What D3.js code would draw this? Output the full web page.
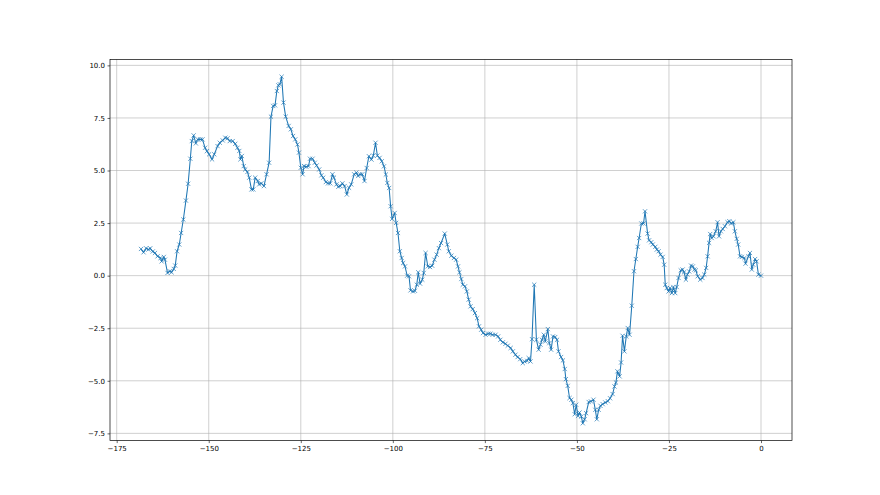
<!DOCTYPE html>
<html>
<head>
<meta charset="utf-8">
<script src="https://cdn.jsdelivr.net/npm/d3@7"></script>
<style>
  body { margin: 0; background: #fff; }
  svg { display: block; }
  .tick text { font-family: "DejaVu Sans", sans-serif; font-size: 7px; fill: #000; }
  .domain { display: none; }
</style>
</head>
<body>
<svg width="880" height="495"></svg>
<script>
// x positions
var xs = [
  -168.4, -167.7, -167.0, -166.4, -165.9, -165.2, -164.6, -163.9, -163.1, -162.8,
  -162.2, -161.9, -161.2, -160.6, -160.1, -159.5, -159.1, -158.6, -158.0, -157.5,
  -156.9, -156.2, -155.6, -155.0, -154.6, -154.1, -153.5, -153.0, -152.3, -151.7,
  -151.0, -150.5, -149.9, -149.1, -148.5, -147.6, -147.0, -146.2, -145.5, -144.9,
  -144.3, -143.5, -142.8, -142.2, -141.7, -141.4, -141.0, -140.5, -140.1, -139.5,
  -139.0, -138.4, -137.9, -137.4, -136.7, -136.3, -135.7, -135.0, -134.3, -133.6,
  -133.1, -132.5, -132.0, -131.5, -131.1, -130.7, -130.2, -129.7, -129.1, -128.3,
  -127.7, -127.1, -126.5, -125.9, -125.5, -125.0, -124.5, -124.1, -123.5, -122.9,
  -122.5, -121.8, -121.2, -120.7, -120.0, -119.4, -118.9, -118.2, -117.6, -117.0,
  -116.4, -116.0, -115.3, -114.8, -114.3, -113.7, -113.1, -112.5, -111.9, -111.3,
  -110.5, -109.9, -109.4, -108.9, -108.3, -107.7, -107.1, -106.5, -105.8, -105.3,
  -104.7, -104.2, -103.6, -103.0, -102.4, -101.9, -101.5, -101.0, -100.6, -100.2,
  -99.5, -99.1, -98.6, -98.1, -97.6, -97.2, -96.7, -96.1, -95.6, -95.2,
  -94.5, -94.0, -93.5, -93.1, -92.6, -92.0, -91.6, -91.1, -90.5, -89.9,
  -89.3, -88.7, -88.1, -87.5, -86.9, -85.9, -85.2, -84.8, -84.1, -83.4,
  -82.8, -82.3, -81.9, -81.4, -81.0, -80.4, -79.9, -79.4, -78.9, -78.3,
  -77.7, -77.1, -76.6, -76.0, -75.5, -74.8, -74.1, -73.5, -72.9, -72.1,
  -71.4, -70.8, -70.1, -69.4, -68.8, -68.0, -67.4, -66.7, -66.1, -65.4,
  -64.7, -64.2, -63.5, -63.1, -62.6, -62.2, -61.6, -61.0, -60.4, -59.9,
  -59.5, -59.0, -58.6, -57.9, -57.5, -57.0, -56.5, -55.9, -55.4, -55.0,
  -54.3, -53.8, -53.3, -53.0, -52.5, -52.0, -51.5, -51.1, -50.6, -50.2,
  -49.7, -49.3, -48.8, -48.4, -47.9, -47.5, -46.8, -46.2, -45.5, -45.0,
  -44.6, -44.1, -43.6, -43.0, -42.3, -41.6, -41.0, -40.3, -39.8, -39.4,
  -39.0, -38.4, -38.0, -37.6, -37.1, -36.6, -36.2, -35.7, -35.1, -34.5,
  -34.0, -33.5, -33.1, -32.5, -31.9, -31.5, -30.8, -30.4, -29.8, -29.4,
  -28.7, -28.3, -27.8, -27.3, -26.7, -26.3, -26.0, -25.6, -25.1, -24.7,
  -24.2, -23.8, -23.3, -22.9, -22.4, -21.8, -21.3, -20.9, -20.4, -20.0,
  -19.5, -19.0, -18.5, -18.1, -17.7, -17.2, -16.5, -15.9, -15.4, -14.9,
  -14.5, -14.1, -13.8, -13.4, -12.9, -12.3, -11.8, -11.4, -10.9, -10.4,
  -9.8, -9.1, -8.6, -8.1, -7.5, -7.1, -6.6, -6.2, -5.7, -5.2,
  -4.5, -4.2, -3.4, -3.0, -2.5, -2.1, -1.6, -1.2, -0.7, 0.0
];

// series values
var ys = [
  1.27, 1.11, 1.30, 1.24, 1.30, 1.15, 1.08, 0.92, 0.84, 0.68,
  0.89, 0.76, 0.13, 0.21, 0.16, 0.32, 0.48, 1.16, 1.48, 2.03,
  2.67, 3.57, 4.37, 5.56, 6.40, 6.67, 6.29, 6.48, 6.48, 6.48,
  6.08, 5.92, 5.77, 5.53, 5.77, 6.16, 6.32, 6.43, 6.56, 6.53,
  6.40, 6.40, 6.27, 6.08, 5.93, 5.53, 5.69, 5.21, 5.05, 4.93,
  4.66, 4.10, 4.10, 4.66, 4.50, 4.34, 4.39, 4.26, 4.82, 5.37,
  7.56, 8.07, 8.10, 8.78, 9.05, 9.10, 9.46, 8.23, 7.56, 7.12,
  6.96, 6.64, 6.48, 6.24, 5.85, 5.13, 4.82, 5.21, 5.18, 5.21,
  5.56, 5.56, 5.37, 5.24, 5.05, 4.77, 4.66, 4.45, 4.39, 4.39,
  4.82, 4.66, 4.34, 4.23, 4.26, 4.39, 4.26, 3.86, 4.18, 4.34,
  4.82, 4.90, 4.74, 4.82, 4.82, 4.50, 5.12, 5.68, 5.52, 5.71,
  6.32, 5.71, 5.60, 5.44, 5.20, 4.81, 4.41, 4.17, 3.30, 2.70,
  2.98, 2.51, 2.03, 1.16, 0.84, 0.60, 0.44, 0.00, -0.03, -0.70,
  -0.75, -0.72, -0.43, 0.16, -0.38, -0.19, 0.13, 1.08, 0.44, 0.41,
  0.47, 0.76, 1.00, 1.31, 1.55, 2.00, 1.48, 1.16, 0.95, 0.84,
  0.76, 0.44, 0.16, -0.16, -0.43, -0.51, -0.75, -1.14, -1.46, -1.59,
  -1.78, -2.02, -2.41, -2.57, -2.73, -2.81, -2.76, -2.76, -2.81, -2.81,
  -2.89, -3.05, -3.17, -3.24, -3.33, -3.44, -3.60, -3.76, -3.87, -3.97,
  -4.16, -4.08, -4.05, -3.92, -4.08, -3.02, -0.43, -3.05, -3.52, -3.28,
  -3.05, -2.81, -3.13, -2.54, -3.21, -3.52, -2.89, -2.92, -3.05, -3.60,
  -3.87, -4.03, -4.44, -4.92, -5.24, -5.82, -5.90, -6.06, -6.59, -6.14,
  -6.67, -6.51, -6.70, -7.02, -6.83, -6.54, -6.01, -5.98, -5.90, -6.38,
  -6.83, -6.38, -6.19, -6.11, -6.03, -5.97, -5.83, -5.63, -5.27, -5.08,
  -4.55, -4.79, -4.13, -2.86, -3.60, -2.89, -2.49, -2.81, -1.43, 0.21,
  0.79, 1.37, 1.79, 2.48, 2.48, 3.06, 2.00, 1.68, 1.59, 1.48,
  1.37, 1.24, 1.16, 1.00, 0.89, 0.52, -0.43, -0.59, -0.75, -0.59,
  -0.83, -0.54, -0.83, -0.54, -0.11, 0.25, 0.29, 0.16, -0.19, 0.05,
  0.20, 0.48, 0.44, 0.29, 0.25, -0.03, -0.19, -0.11, 0.05, 0.37,
  0.92, 1.56, 1.98, 1.79, 1.87, 2.11, 2.54, 1.87, 2.11, 2.22,
  2.35, 2.54, 2.59, 2.48, 2.54, 2.11, 1.75, 1.48, 0.92, 0.89,
  0.84, 0.57, 0.92, 1.08, 0.29, 0.52, 0.79, 0.68, 0.05, 0.00
];

var xTicks = [-175, -150, -125, -100, -75, -50, -25, 0];
var yTicks = [-7.5, -5.0, -2.5, 0.0, 2.5, 5.0, 7.5, 10.0];

var data = xs.map(function(x, i) { return { x: x, y: ys[i] }; });

var svg = d3.select("svg");
var plotLeft = 110, plotRight = 792, plotTop = 59.4, plotBottom = 440.6;

// matplotlib style 5% margins
var xExt = d3.extent(xs), yExt = d3.extent(ys);
var xPad = (xExt[1] - xExt[0]) * 0.05, yPad = (yExt[1] - yExt[0]) * 0.05;

var x = d3.scaleLinear()
    .domain([xExt[0] - xPad, xExt[1] + xPad])
    .range([plotLeft, plotRight]);

var y = d3.scaleLinear()
    .domain([yExt[0] - yPad, yExt[1] + yPad])
    .range([plotBottom, plotTop]);

// grid
svg.append("g")
    .selectAll("line")
    .data(xTicks)
    .enter().append("line")
      .attr("x1", function(d) { return x(d); })
      .attr("x2", function(d) { return x(d); })
      .attr("y1", plotTop)
      .attr("y2", plotBottom)
      .attr("stroke", "#b0b0b0")
      .attr("stroke-width", 0.6);

svg.append("g")
    .selectAll("line")
    .data(yTicks)
    .enter().append("line")
      .attr("x1", plotLeft)
      .attr("x2", plotRight)
      .attr("y1", function(d) { return y(d); })
      .attr("y2", function(d) { return y(d); })
      .attr("stroke", "#b0b0b0")
      .attr("stroke-width", 0.6);

// the line
var line = d3.line()
    .x(function(d) { return x(d.x); })
    .y(function(d) { return y(d.y); });

svg.append("path")
    .datum(data)
    .attr("d", line)
    .attr("fill", "none")
    .attr("stroke", "#1f77b4")
    .attr("stroke-width", 1.05)
    .attr("stroke-linejoin", "round");

// x markers
var m = 2.1;
svg.append("g")
    .selectAll("path")
    .data(data)
    .enter().append("path")
      .attr("d", function(d) {
        var cx = x(d.x), cy = y(d.y);
        return "M" + (cx - m) + "," + (cy - m) + "L" + (cx + m) + "," + (cy + m) +
               "M" + (cx - m) + "," + (cy + m) + "L" + (cx + m) + "," + (cy - m);
      })
      .attr("stroke", "#1f77b4")
      .attr("stroke-width", 0.7)
      .attr("fill", "none");

// axes
svg.append("g")
    .attr("transform", "translate(0," + plotBottom + ")")
    .call(d3.axisBottom(x)
      .tickValues(xTicks)
      .tickSize(2.5)
      .tickPadding(2.5)
      .tickFormat(d3.format("d")))
    .selectAll(".tick line").attr("stroke", "#000").attr("stroke-width", 0.6);

svg.append("g")
    .attr("transform", "translate(" + plotLeft + ",0)")
    .call(d3.axisLeft(y)
      .tickValues(yTicks)
      .tickSize(2.5)
      .tickPadding(2.5)
      .tickFormat(d3.format(".1f")))
    .selectAll(".tick line").attr("stroke", "#000").attr("stroke-width", 0.6);

// frame
svg.append("rect")
    .attr("x", plotLeft)
    .attr("y", plotTop)
    .attr("width", plotRight - plotLeft)
    .attr("height", plotBottom - plotTop)
    .attr("fill", "none")
    .attr("stroke", "#000")
    .attr("stroke-width", 0.7);
</script>
</body>
</html>
